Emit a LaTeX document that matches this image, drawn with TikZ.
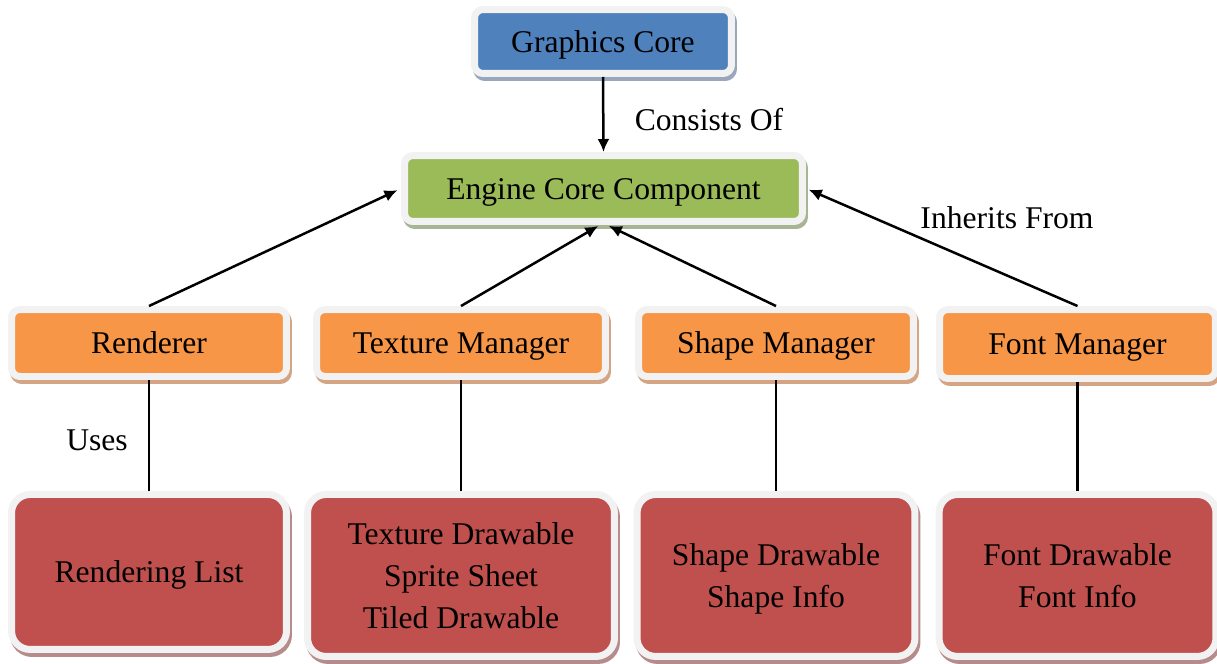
\documentclass[tikz,border=0pt]{standalone}
\usepackage{fontspec}
\setmainfont{Liberation Serif}
\usetikzlibrary{positioning, arrows.meta}

\definecolor{coreblue}{HTML}{4F81BD}
\definecolor{coreshadow}{HTML}{98A7BB}
\definecolor{enginegreen}{HTML}{9BBB59}
\definecolor{engineshadow}{HTML}{A8B595}
\definecolor{mgrorange}{HTML}{F79646}
\definecolor{mgrshadow}{HTML}{D3A585}
\definecolor{drawred}{HTML}{C0504D}
\definecolor{drawshadow}{HTML}{B68B8B}
\definecolor{framegray}{HTML}{F2F2F2}

\begin{document}
\begin{tikzpicture}[x=0.02cm, y=-0.02cm]
    % Styles
    \tikzset{
        box/.style 2 args={rectangle, draw=framegray, line width=0.14cm, fill=#1, rounded corners=0.17cm, inner sep=0pt, align=center, font=\fontsize{18}{24}\selectfont, preaction={draw=#2, fill=#2, transform canvas={xshift=0.04cm, yshift=-0.08cm}}},
        oneline/.style={text height=0.43cm, text depth=0cm},
        core/.style={box={coreblue}{coreshadow}, oneline, minimum width=5.14cm, minimum height=1.28cm},
        engine/.style={box={enginegreen}{engineshadow}, oneline, minimum width=7.96cm, minimum height=1.32cm},
        manager/.style={box={mgrorange}{mgrshadow}, oneline, minimum width=5.5cm, minimum height=1.34cm},
        drawable/.style={box={drawred}{drawshadow}, text depth=0cm, rounded corners=0.37cm, minimum width=5.54cm, minimum height=3.24cm},
        note/.style={font=\fontsize{18}{24}\selectfont, inner sep=0pt},
        link/.style={-{Latex[length=0.26cm, width=0.24cm]}, line width=0.05cm},
        tie/.style={line width=0.045cm}
    }
    \useasboundingbox (0,0) rectangle (1217,663);

    % --- Nodes ---

    % Top: Graphics Core and Engine
    \node[core] (core) at (603,41.5) {Graphics Core};
    \node[engine] (engine) at (603.5,188.5) {Engine Core Component};

    % Manager row
    \node[manager] (renderer) at (149,343) {Renderer};
    \node[manager, minimum width=5.78cm] (texture_mgr) at (461,343) {Texture Manager};
    \node[manager] (shape_mgr) at (776,343) {Shape Manager};
    \node[manager, minimum width=5.52cm, minimum height=1.38cm] (font_mgr) at (1077.5,344) {Font Manager};

    % Drawable row
    \node[drawable, oneline, minimum width=5.5cm, minimum height=3.1cm, below=2.22cm of renderer] (render_list) {Rendering List};
    \node[drawable, minimum width=6.14cm, below=2.22cm of texture_mgr] (texture_draw) {Texture Drawable\\Sprite Sheet\\Tiled Drawable};
    \node[drawable, minimum width=5.56cm, below=2.22cm of shape_mgr] (shape_draw) {Shape Drawable\\Shape Info};
    \node[drawable, below=2.18cm of font_mgr] (font_draw) {Font Drawable\\Font Info};

    % --- Connections ---

    % Core to Engine
    \draw[link] (core.south) -- (engine.north);
    \node[note] (consists) at (709,120) {Consists Of};

    % Managers inherit from Engine
    \draw[link, shorten >=0.08cm] (renderer.north) -- (engine.west);
    \draw[link, shorten >=0.04cm] (texture_mgr.north) -- ([xshift=-0.07cm]engine.south);
    \draw[link, shorten >=0.04cm] (shape_mgr.north) -- ([xshift=0.07cm]engine.south);
    \draw[link, shorten >=0.06cm] (font_mgr.north) -- (engine.east);
    \node[note] (inherits) at (1007,218) {Inherits From};

    % Managers use their drawables
    \draw[tie] (renderer.south) -- (render_list.north);
    \draw[tie] (texture_mgr.south) -- (texture_draw.north);
    \draw[tie] (shape_mgr.south) -- (shape_draw.north);
    \draw[tie] (font_mgr.south) -- (font_draw.north);
    \node[note] (uses) at (97,440) {Uses};

\end{tikzpicture}
\end{document}
